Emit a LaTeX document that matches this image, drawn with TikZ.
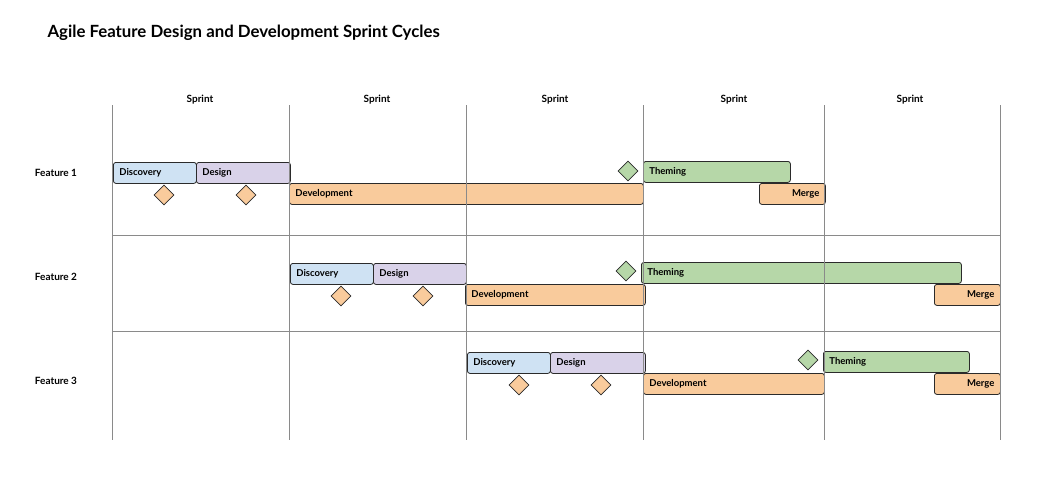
\documentclass[tikz,border=0pt]{standalone}
\usepackage{fontspec}
\setmainfont{Lato}
\usepackage{tikz}
\usetikzlibrary{shapes.geometric}
\definecolor{SprintGrid}{HTML}{8A8A8A}
\definecolor{SprintLine}{HTML}{2B2B2B}
\definecolor{DiscBlue}{HTML}{CFE2F3}
\definecolor{DesignLilac}{HTML}{D9D2E9}
\definecolor{DevOrange}{HTML}{F9CB9C}
\definecolor{ThemeGreen}{HTML}{B6D7A8}

\begin{document}
\begin{tikzpicture}[x=1pt,y=-1pt,
  task/.style={draw=SprintLine,thick,rounded corners=2.5pt,anchor=north west,inner xsep=6pt,inner ysep=0pt,minimum height=21pt,font=\bfseries\fontsize{9.5}{11}\selectfont,align=left},
  gate/.style={diamond,draw=SprintLine,thick,minimum width=20pt,minimum height=20pt,inner sep=0pt},
  head/.style={font=\bfseries\fontsize{10}{12}\selectfont}]
  \useasboundingbox (0,0) rectangle (1047,487);
  \node[anchor=west,font=\bfseries\fontsize{16.8}{20}\selectfont] (title) at (44,33) {Agile Feature Design and Development Sprint Cycles};
  % sprint headers and feature rows
  \foreach \x [count=\i] in {200,377,555,734,910}
    \node[head] (sprint\i) at (\x,100) {Sprint};
  \foreach \y [count=\i] in {173,277,381}
    \node[head] (feat\i) at (56,\y) {Feature \i};
  % feature 1
  \node[task,fill=DiscBlue,text width=71pt] (disc1) at (113,162) {Discovery};
  \node[task,fill=DesignLilac,text width=82pt] (des1) at (196,162) {Design};
  \node[task,fill=DevOrange,text width=342pt] (dev1) at (289,183) {Development};
  \node[task,fill=ThemeGreen,text width=135pt] (theme1) at (643,161) {Theming};
  \node[task,fill=DevOrange,text width=54pt,align=right] (merge1) at (759,183) {Merge};
  \node[gate,fill=DevOrange] (gA1) at (164,195) {};
  \node[gate,fill=DevOrange] (gB1) at (246,195) {};
  \node[gate,fill=ThemeGreen] (gC1) at (628,171) {};
  % feature 2
  \node[task,fill=DiscBlue,text width=71pt] (disc2) at (290,263) {Discovery};
  \node[task,fill=DesignLilac,text width=81pt] (des2) at (373,263) {Design};
  \node[task,fill=DevOrange,text width=168pt] (dev2) at (465,284) {Development};
  \node[task,fill=ThemeGreen,text width=308pt] (theme2) at (641,262) {Theming};
  \node[task,fill=DevOrange,text width=54pt,align=right] (merge2) at (934,284) {Merge};
  \node[gate,fill=DevOrange] (gA2) at (341,296) {};
  \node[gate,fill=DevOrange] (gB2) at (423,296) {};
  \node[gate,fill=ThemeGreen] (gC2) at (626,271) {};
  % feature 3
  \node[task,fill=DiscBlue,text width=71pt] (disc3) at (467,352) {Discovery};
  \node[task,fill=DesignLilac,text width=83pt] (des3) at (550,352) {Design};
  \node[task,fill=DevOrange,text width=169pt] (dev3) at (643,373) {Development};
  \node[task,fill=ThemeGreen,text width=134pt] (theme3) at (823,351) {Theming};
  \node[task,fill=DevOrange,text width=54pt,align=right] (merge3) at (934,373) {Merge};
  \node[gate,fill=DevOrange] (gA3) at (519,385) {};
  \node[gate,fill=DevOrange] (gB3) at (601,385) {};
  \node[gate,fill=ThemeGreen] (gC3) at (808,360) {};
  % grid on top
  \foreach \x in {112,289,466,643,824,1000}
    \draw[SprintGrid,line width=0.8pt] (\x,105)--(\x,440);
  \foreach \y in {235,331}
    \draw[SprintGrid,line width=0.8pt] (112,\y)--(1000,\y);
\end{tikzpicture}
\end{document}
